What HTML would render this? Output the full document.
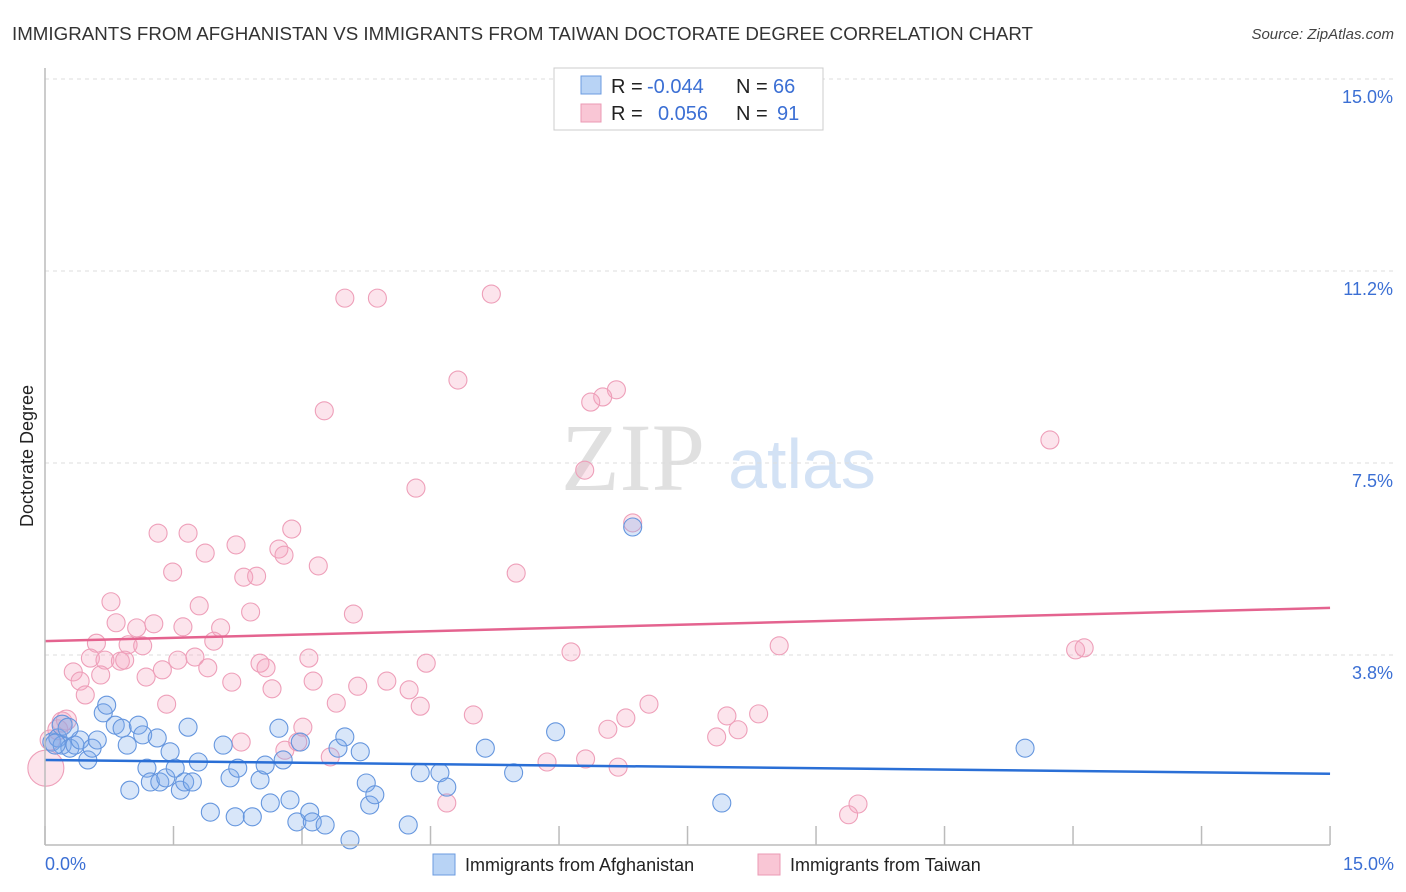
<!DOCTYPE html>
<html><head><meta charset="utf-8"><style>
body{margin:0;background:#fff;font-family:"Liberation Sans",sans-serif;}
svg{display:block}
</style></head><body>
<svg id="c" width="1406" height="892">
<text x="12" y="40" font-size="18" fill="#333" textLength="1021" lengthAdjust="spacingAndGlyphs">IMMIGRANTS FROM AFGHANISTAN VS IMMIGRANTS FROM TAIWAN DOCTORATE DEGREE CORRELATION CHART</text>
<text x="1394" y="39" font-size="15" fill="#444" font-style="italic" text-anchor="end">Source: ZipAtlas.com</text>
<text x="633" y="490" font-size="96" fill="#e0e0e0" font-family="Liberation Serif,serif" text-anchor="middle">ZIP</text>
<text x="802" y="488" font-size="70" fill="#d3e2f5" text-anchor="middle">atlas</text>
<text transform="translate(33,456) rotate(-90)" font-size="18" fill="#222" text-anchor="middle">Doctorate Degree</text>
<g id="grid"></g><g id="pts"></g><g id="lines"></g>
<line x1="45" y1="68" x2="45" y2="845" stroke="#bbb" stroke-width="1.5"/>
<line x1="45" y1="845" x2="1330" y2="845" stroke="#bbb" stroke-width="1.5"/>
<text x="45" y="870" font-size="18" fill="#3b6fd4">0.0%</text>
<text x="1394" y="870" font-size="18" fill="#3b6fd4" text-anchor="end">15.0%</text>
<g>
<rect x="554" y="68" width="269" height="62" fill="#fff" stroke="#ccc"/>
<rect x="581" y="76" width="20" height="18" fill="#b8d3f5" stroke="#6b9be0"/>
<rect x="581" y="104" width="20" height="18" fill="#f9c6d5" stroke="#eb9ab4"/>
<g font-size="20" fill="#222">
<text x="611" y="93">R =</text><text x="647" y="93" fill="#3b6fd4">-0.044</text><text x="736" y="93">N =</text><text x="773" y="93" fill="#3b6fd4">66</text>
<text x="611" y="120">R =</text><text x="658" y="120" fill="#3b6fd4">0.056</text><text x="736" y="120">N =</text><text x="777" y="120" fill="#3b6fd4">91</text>
</g>
</g>
<g><rect x="433" y="854" width="22" height="21" fill="#b8d3f5" stroke="#6b9be0"/><text x="465" y="871" font-size="18" fill="#222">Immigrants from Afghanistan</text></g>
<g><rect x="758" y="854" width="22" height="21" fill="#f9c6d5" stroke="#eb9ab4"/><text x="790" y="871" font-size="18" fill="#222">Immigrants from Taiwan</text></g>
</svg>
<script>
const yTicks=[3.75,7.5,11.25,15];
const yTickLabels=["3.8%","7.5%","11.2%","15.0%"];
const xTicks=[0,1.5,3,4.5,6,7.5,9,10.5,12,13.5,15];
const bluePx=[[52,742],[58,738],[62,745],[70,748],[75,745],[80,740],[88,760],[92,748],[97,740],[103,713],[107,705],[115,725],[122,728],[127,745],[130,790],[138,725],[143,735],[147,768],[150,782],[157,738],[160,782],[166,778],[170,752],[175,768],[180,790],[185,782],[188,727],[192,782],[198,762],[210,812],[223,745],[230,778],[235,817],[238,768],[252,817],[260,780],[265,765],[270,803],[279,728],[283,760],[290,800],[297,822],[300,742],[310,812],[312,822],[325,825],[338,748],[345,737],[350,840],[360,752],[366,783],[370,805],[375,795],[408,825],[420,773],[440,773],[447,787],[485,748],[514,773],[556,732],[633,527],[722,803],[1025,748],[62,725],[68,728],[55,744]];
const pinkPx=[[345,298],[377,298],[491,294],[458,380],[324,411],[616,390],[603,397],[591,402],[1050,440],[585,470],[416,488],[633,523],[158,533],[188,533],[292,529],[236,545],[279,549],[284,555],[205,553],[318,566],[516,573],[173,572],[244,577],[257,576],[111,602],[199,606],[251,612],[353,614],[116,623],[154,624],[137,628],[183,627],[221,628],[96,643],[128,645],[143,646],[214,641],[90,658],[105,660],[120,661],[125,660],[178,660],[195,657],[309,658],[260,663],[266,668],[208,668],[73,672],[101,675],[162,670],[146,677],[80,681],[232,682],[313,681],[387,681],[426,663],[571,652],[779,646],[1076,650],[1084,648],[358,686],[409,690],[272,689],[85,695],[167,704],[336,703],[420,706],[649,704],[473,715],[626,718],[727,716],[759,714],[608,729],[303,727],[738,730],[717,737],[241,742],[285,750],[298,742],[330,757],[547,762],[586,759],[618,767],[447,803],[858,804],[849,815],[62,722],[58,730],[50,740],[46,768],[66,720]];
const blueX=bluePx.map(p=>+((p[0]-45)/85.67).toFixed(2));
const blueY=bluePx.map(p=>+((847-p[1])/51.2).toFixed(2));
const pinkX=pinkPx.map(p=>+((p[0]-45)/85.67).toFixed(2));
const pinkY=pinkPx.map(p=>+((847-p[1])/51.2).toFixed(2));
const blueTrend=[1.70,1.43];
const pinkTrend=[4.02,4.67];
const xs=v=>45+v*85.67, ys=v=>847-v*51.2;
const NS="http://www.w3.org/2000/svg";
function mk(t,a,p){const e=document.createElementNS(NS,t);for(const k in a)e.setAttribute(k,a[k]);p.appendChild(e);return e;}
const g=document.getElementById('grid');
yTicks.forEach((v,i)=>{
 const l=mk('line',{x1:45,x2:1394,y1:ys(v),y2:ys(v),stroke:'#ddd','stroke-dasharray':'4,4'},g);
 
 
 const t=mk('text',{x:1393,y:ys(v)+24,'font-size':18,fill:'#3b6fd4','text-anchor':'end'},g);
 t.textContent=yTickLabels[i];
 
 
});
xTicks.forEach(v=>{
 const l=mk('line',{x1:xs(v),x2:xs(v),y1:826,y2:845,stroke:'#bbb','stroke-width':1.5},g);
 
 
});
const P=document.getElementById('pts');
pinkX.forEach((x,i)=>{
 const r=(i===pinkX.length-2)?18:(i>=pinkX.length-5?10:9);
 const c=mk('circle',{cx:xs(x),cy:ys(pinkY[i]),r:r,fill:'rgba(244,165,192,0.3)',stroke:'#ee9fb9','stroke-width':1.1},P);
 
 
});
blueX.forEach((x,i)=>{
 const c=mk('circle',{cx:xs(x),cy:ys(blueY[i]),r:i>=blueX.length-3?10:9,fill:'rgba(125,172,235,0.3)',stroke:'#6596de','stroke-width':1.1},P);
 
 
});
const L=document.getElementById('lines');
const bl=mk('line',{x1:xs(0),x2:xs(15),y1:ys(blueTrend[0]),y2:ys(blueTrend[1]),stroke:'#2a6fd6','stroke-width':2.5},L);


const pl=mk('line',{x1:xs(0),x2:xs(15),y1:ys(pinkTrend[0]),y2:ys(pinkTrend[1]),stroke:'#e4638f','stroke-width':2.5},L);


</script>
</body></html>
